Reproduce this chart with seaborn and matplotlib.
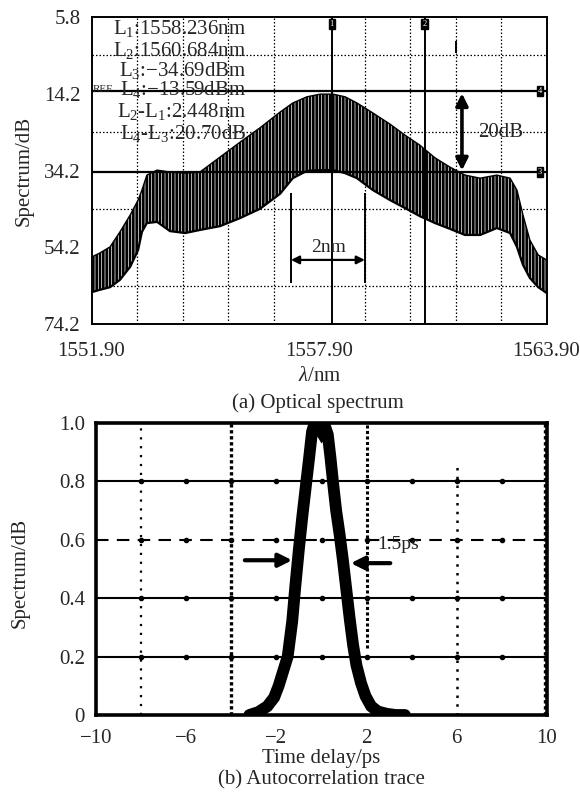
import matplotlib
matplotlib.use("Agg")
import matplotlib.pyplot as plt
import numpy as np
import seaborn as sns
from matplotlib.ticker import FixedLocator

# ---- (a) optical spectrum: envelope of the comb ----
wavelength_nm = [1551.91, 1552.12, 1552.39, 1552.65, 1552.92, 1553.13, 1553.23, 1553.36,
                 1553.63, 1553.97, 1554.37, 1554.76, 1555.29, 1555.82, 1556.34, 1556.87,
                 1557.21, 1557.58, 1557.93, 1558.27, 1558.59, 1558.90, 1559.32, 1559.77,
                 1560.17, 1560.56, 1560.96, 1561.35, 1561.75, 1562.15, 1562.59, 1562.94,
                 1563.12, 1563.28, 1563.46, 1563.68, 1563.90]
upper_db = [56.7, 55.7, 54.1, 50.2, 45.8, 41.9, 39.3, 35.4, 34.1, 34.6, 34.9, 34.6, 30.7,
            26.8, 23.1, 19.0, 16.6, 15.0, 14.3, 14.3, 15.0, 16.6, 19.2, 22.1, 25.0, 27.6,
            30.9, 33.3, 35.4, 36.2, 35.4, 36.2, 39.3, 45.8, 52.3, 56.2, 57.5]
lower_db = [65.9, 65.3, 64.6, 62.7, 59.3, 54.9, 50.2, 47.9, 47.6, 50.0, 50.5, 49.7, 48.7,
            46.6, 44.2, 40.3, 36.2, 34.3, 34.1, 34.1, 34.9, 36.2, 39.3, 41.9, 44.0, 46.1,
            47.9, 49.4, 51.0, 51.0, 49.2, 50.5, 54.1, 58.8, 62.2, 64.6, 66.1]

spec_yticks = [-5.8, 14.2, 34.2, 54.2, 74.2]
spec_yticklabels = ["5.8", "14.2", "34.2", "54.2", "74.2"]
spec_xticks = [1551.90, 1557.90, 1563.90]
spec_xticklabels = ["1551.90", "1557.90", "1563.90"]

marker_l1, marker_l2 = 1558.236, 1560.684
marker_l3, marker_l4 = 34.69, 13.59
two_nm_lines = [1557.16, 1559.11]
readout = ["L$_1$:1558.236nm", "L$_2$:1560.684nm", "L$_3$:\u221234.69dBm",
           "L$_4$:\u221213.59dBm", "L$_2$-L$_1$:2.448nm", "L$_4$-L$_3$:20.70dB"]

# ---- (b) autocorrelation trace ----
delay_ps = [-3.2, -2.8, -2.4, -2.1, -1.9, -1.7, -1.5, -1.3, -1.15, -1.0, -0.85, -0.7,
            -0.55, -0.42, -0.3, -0.15, 0.0, 0.15, 0.28, 0.4, 0.52, 0.65, 0.8, 0.95, 1.1,
            1.25, 1.4, 1.55, 1.75, 1.95, 2.2, 2.5, 2.9, 3.3, 3.7]
intensity = [0.0, 0.01, 0.03, 0.06, 0.1, 0.15, 0.2, 0.32, 0.45, 0.57, 0.68, 0.78, 0.88,
             0.97, 1.0, 0.99, 0.97, 0.99, 0.96, 0.88, 0.79, 0.70, 0.62, 0.53, 0.43, 0.33,
             0.24, 0.17, 0.11, 0.065, 0.03, 0.012, 0.004, 0.0, 0.0]
ac_xticks = [-10, -6, -2, 2, 6, 10]
ac_yticks = [0, 0.2, 0.4, 0.6, 0.8, 1.0]
ac_yticklabels = ["0", "0.2", "0.4", "0.6", "0.8", "1.0"]
grid_dots_x = [-8, -6, -4, -2, 0, 2, 4, 6, 8]

sns.set_style("white")
plt.rcParams["font.family"] = ["Liberation Serif", "DejaVu Serif"]
plt.rcParams["mathtext.fontset"] = "custom"
plt.rcParams["mathtext.rm"] = "Liberation Serif"
plt.rcParams["mathtext.it"] = "Liberation Serif:italic"
plt.rcParams["hatch.linewidth"] = 0.5
FS = 15

fig = plt.figure(figsize=(5.8, 7.99), dpi=100)
W, H = 580.0, 799.0


def px_axes(left, top, right, bottom):
    return fig.add_axes([left / W, 1 - bottom / H, (right - left) / W, (bottom - top) / H])


# ================= top panel =================
ax1 = px_axes(91.5, 17, 546.5, 324)
ax1.fill_between(wavelength_nm, upper_db, lower_db, facecolor="black",
                 edgecolor="white", hatch="|||||", linewidth=0, zorder=3)
sns.lineplot(x=wavelength_nm, y=upper_db, ax=ax1, color="black", lw=1.0, zorder=4)
sns.lineplot(x=wavelength_nm, y=lower_db, ax=ax1, color="black", lw=1.6, zorder=4)

ax1.set_xlim(spec_xticks[0], spec_xticks[-1])
ax1.set_ylim(spec_yticks[-1], spec_yticks[0])
ax1.set_xticks(spec_xticks, spec_xticklabels)
ax1.set_yticks(spec_yticks, spec_yticklabels)
ax1.xaxis.set_minor_locator(FixedLocator(np.linspace(spec_xticks[0], spec_xticks[-1], 11)))
ax1.yaxis.set_minor_locator(FixedLocator(np.linspace(spec_yticks[0], spec_yticks[-1], 9)))
ax1.grid(which="minor", color="black", lw=0.9, ls=(0, (1.2, 1.6)), zorder=1)
ax1.tick_params(which="both", length=0, labelsize=FS)
ax1.tick_params(axis="x", pad=13)
ax1.tick_params(axis="y", pad=8)
for s in ax1.spines.values():
    s.set_linewidth(1.4)
    s.set_color("black")

# marker lines
for xm in (marker_l1, marker_l2):
    ax1.axvline(xm, color="black", lw=1.4, zorder=5)
for ym in (marker_l4, marker_l3):
    ax1.axhline(ym, color="black", lw=1.6, zorder=5)
ax1.vlines(two_nm_lines, 40, 63.5, color="black", lw=1.4, zorder=5)
ax1.vlines(1561.51, 0.4, 3.5, color="black", lw=1.4, zorder=5)

box = dict(boxstyle="square,pad=0.12", fc="black", ec="black")
for xm, lab in ((marker_l1, "1"), (marker_l2, "2")):
    ax1.text(xm, -4.0, lab, color="white", fontsize=6, ha="center", va="center",
             bbox=box, zorder=6)
for ym, lab in ((marker_l4, "4"), (marker_l3, "3")):
    ax1.text(1563.72, ym, lab, color="white", fontsize=6, ha="center", va="center",
             bbox=box, zorder=6)

# readout text
ys = [0.964, 0.892, 0.827, 0.765, 0.691, 0.622]
for t, yy in zip(readout, ys):
    ax1.text(0.34, yy, t, transform=ax1.transAxes, ha="right", va="center",
             fontsize=FS, zorder=7)
ax1.text(0.003, 0.765, "REF", transform=ax1.transAxes, ha="left", va="center",
         fontsize=8, zorder=7)

# 20 dB arrow
ax1.annotate("", xy=(1561.67, marker_l3 - 0.5), xytext=(1561.67, marker_l4 + 0.5),
             arrowprops=dict(arrowstyle="<|-|>", lw=2.6, color="black",
                             mutation_scale=18, shrinkA=0, shrinkB=0), zorder=6)
ax1.text(1562.70, 24.2, "20dB", fontsize=FS, ha="center", va="center", zorder=6)

# 2 nm arrow
ax1.annotate("", xy=(two_nm_lines[0], 57.5), xytext=(two_nm_lines[1], 57.5),
             arrowprops=dict(arrowstyle="<|-|>", lw=1.6, color="black",
                             mutation_scale=12, shrinkA=0, shrinkB=0), zorder=6)
ax1.text(1558.16, 54.2, "2nm", fontsize=14, ha="center", va="center", zorder=6)

# ================= bottom panel =================
ax2 = px_axes(96, 423, 547, 715)
ax2.set_xlim(-10, 10)
ax2.set_ylim(0, 1)

for yg in (0.2, 0.4, 0.8):
    ax2.axhline(yg, color="black", lw=1.5, zorder=1)
ax2.axhline(0.6, color="black", lw=1.5, ls=(0, (6, 4)), zorder=1)
for yg in (0.2, 0.4, 0.6, 0.8):
    ax2.plot(grid_dots_x, [yg] * len(grid_dots_x), ls="none", marker="o",
             ms=3, color="black", zorder=1)
ax2.vlines(-8, 0, 1, color="black", lw=1.6, ls=(0, (1, 3)), zorder=1)
ax2.vlines(-4, 0, 1, color="black", lw=2.4, ls=(0, (1, 0.8)), zorder=1)
ax2.vlines(2, 0.23, 1, color="black", lw=2.2, ls=(0, (1, 0.8)), zorder=1)
ax2.vlines(6, 0, 0.85, color="black", lw=1.8, ls=(0, (1, 2.5)), zorder=1)
ax2.vlines(9.93, 0, 1, color="black", lw=2.4, ls=(0, (1, 0.8)), zorder=1)

sns.lineplot(x=delay_ps, y=intensity, ax=ax2, color="black", lw=8.5, zorder=3,
             solid_joinstyle="miter")

ax2.annotate("", xy=(-1.3, 0.53), xytext=(-3.4, 0.53),
             arrowprops=dict(arrowstyle="-|>", lw=3, color="black",
                             mutation_scale=20, shrinkA=0, shrinkB=0), zorder=4)
ax2.annotate("", xy=(1.3, 0.52), xytext=(3.05, 0.52),
             arrowprops=dict(arrowstyle="-|>", lw=3, color="black",
                             mutation_scale=20, shrinkA=0, shrinkB=0), zorder=4)
ax2.text(2.45, 0.585, "1.5ps", fontsize=14, ha="left", va="center", zorder=4)

ax2.set_xticks(ac_xticks)
ax2.set_yticks(ac_yticks, ac_yticklabels)
ax2.tick_params(length=0, labelsize=FS)
ax2.tick_params(axis="x", pad=10)
ax2.tick_params(axis="y", pad=8)
for s in ax2.spines.values():
    s.set_linewidth(2.6)
    s.set_color("black")
ax2.set_xlabel("")
ax2.set_ylabel("")
ax1.set_xlabel("")
ax1.set_ylabel("")

# labels and captions
fig.text(24 / W, 1 - 171 / H, "Spectrum/dB", rotation=90, ha="center", va="center", fontsize=FS)
fig.text(20 / W, 1 - 573 / H, "Spectrum/dB", rotation=90, ha="center", va="center", fontsize=FS)
fig.text(320 / W, 1 - 377 / H, r"$\lambda$/nm", ha="center", va="center", fontsize=FS)
fig.text(318 / W, 1 - 403 / H, "(a) Optical spectrum", ha="center", va="center", fontsize=FS)
fig.text(321 / W, 1 - 758 / H, "Time delay/ps", ha="center", va="center", fontsize=FS)
fig.text(321 / W, 1 - 780 / H, "(b) Autocorrelation trace", ha="center", va="center", fontsize=FS)

fig.savefig("out.png", dpi=100, facecolor="white")
